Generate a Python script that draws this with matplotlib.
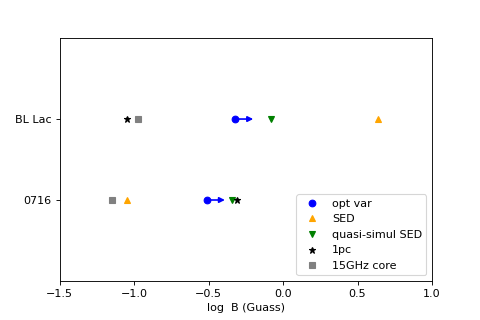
import matplotlib
matplotlib.use("Agg")
import matplotlib.pyplot as plt

sources = ["0716", "BL Lac"]
opt_var = [-0.51, -0.32]
opt_var_arrow = [0.12, 0.12]
sed = [-1.05, 0.64]
quasi_simul_sed = [-0.34, -0.08]
one_pc = [-0.31, -1.05]
core_15ghz = [-1.15, -0.97]

ypos = [1, 2]

fig, ax = plt.subplots(figsize=(6, 4), dpi=80)
fig.subplots_adjust(left=0.124, right=0.9, bottom=0.122, top=0.881)
ax.plot(opt_var, ypos, "o", color="blue", label="opt var")
ax.plot(sed, ypos, "^", color="orange", label="SED")
ax.plot(quasi_simul_sed, ypos, "v", color="green", label="quasi-simul SED")
ax.plot(one_pc, ypos, "*", color="black", label="1pc")
ax.plot(core_15ghz, ypos, "s", color="gray", label="15GHz core")
for x, dx, y in zip(opt_var, opt_var_arrow, ypos):
    ax.annotate("", xy=(x + dx, y), xytext=(x, y),
                arrowprops=dict(arrowstyle="-|>", color="blue", lw=1.5,
                                shrinkA=0, shrinkB=0, mutation_scale=10))

ax.set_xlim(-1.5, 1.0)
ax.set_ylim(0, 3)
ax.set_yticks(ypos)
ax.set_yticklabels(sources)
ax.set_xlabel("log  B (Guass)")
ax.legend(loc="lower right")
fig.savefig("out.png")
